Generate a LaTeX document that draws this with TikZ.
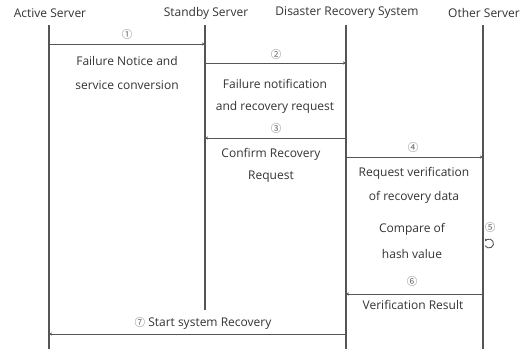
\documentclass[tikz,border=0pt]{standalone}
\usepackage{fontspec}
\setmainfont{Open Sans}
\newfontfamily\cjkfont{Noto Sans CJK KR}
\usetikzlibrary{arrows.meta}
\definecolor{linec}{HTML}{555555}
\definecolor{txtc}{HTML}{333333}
\definecolor{numc}{HTML}{666666}
\newcommand{\circnum}[1]{{\cjkfont\fontsize{10.5}{11}\selectfont\color{numc}#1}}
\tikzset{
  life/.style={draw=linec, line width=1.1pt},
  msg/.style={draw=linec, line width=1pt, -{Stealth[length=3pt,width=3pt]}},
  head/.style={font=\fontsize{12}{14}\selectfont, text=txtc, inner sep=0pt},
  lbl/.style={font=\fontsize{12}{14}\selectfont, text=txtc, inner sep=0pt, align=center},
  num/.style={inner sep=0pt}
}
\begin{document}
\begin{tikzpicture}[x=1pt,y=-1pt]
\useasboundingbox (0,0) rectangle (527,349);
% headers
\node[head] (hA) at (50,13) {Active Server};
\node[head] (hS) at (206,13) {Standby Server};
\node[head] (hD) at (347,13) {Disaster Recovery System};
\node[head] (hO) at (484,13) {Other Server};
% lifelines
\coordinate (At) at (49,25);  \coordinate (Ab) at (49,349);
\coordinate (St) at (205,25); \coordinate (Sb) at (205,310);
\coordinate (Dt) at (346,25); \coordinate (Db) at (346,349);
\coordinate (Ot) at (483,25); \coordinate (Ob) at (483,349);
\draw[life] (At) -- (Ab);
\draw[life] (St) -- (Sb);
\draw[life] (Dt) -- (Db);
\draw[life] (Ot) -- (Ob);
% message points
\coordinate (A1) at (49,44);  \coordinate (S1) at (205,44);
\coordinate (S2) at (205,63); \coordinate (D2) at (346,63);
\coordinate (D3) at (346,138); \coordinate (S3) at (205,138);
\coordinate (D4) at (346,157); \coordinate (O4) at (483,157);
\coordinate (O6) at (483,294); \coordinate (D6) at (346,294);
\coordinate (D7) at (346,334); \coordinate (A7) at (49,334);
\draw[msg] (A1) -- (S1);
\draw[msg] (S2) -- (D2);
\draw[msg] (D3) -- (S3);
\draw[msg] (D4) -- (O4);
\draw[msg] (O6) -- (D6);
\draw[msg] (D7) -- (A7);
% numbers
\node[num] (n1) at (127,35) {\circnum{①}};
\node[num] (n2) at (276,55) {\circnum{②}};
\node[num] (n3) at (276,129) {\circnum{③}};
\node[num] (n4) at (413,148) {\circnum{④}};
\node[num] (n5) at (490,228) {\circnum{⑤}};
\node[num] (n6) at (412,282) {\circnum{⑥}};
% labels
\node[lbl] (l1a) at (127,61) {Failure Notice and};
\node[lbl] (l1b) at (127,85) {service conversion};
\node[lbl] (l2a) at (275,84) {Failure notification};
\node[lbl] (l2b) at (275,107) {and recovery request};
\node[lbl] (l3a) at (271,154) {Confirm Recovery};
\node[lbl] (l3b) at (271,177) {Request};
\node[lbl] (l4a) at (414,173) {Request verification};
\node[lbl] (l4b) at (414,197) {of recovery data};
\node[lbl] (l5a) at (412,229) {Compare of};
\node[lbl] (l5b) at (412,254) {hash value};
\node[lbl] (l6) at (413,305) {Verification Result};
\node[lbl] (l7) at (203,323) {\circnum{⑦}\ Start system Recovery};
% self loop
\draw[draw=linec, line width=0.9pt, -{Stealth[length=2.5pt,width=2.5pt]}] (489,248) ++(-150:4.5) arc[start angle=-150, end angle=150, radius=4.5pt];
\end{tikzpicture}
\end{document}
